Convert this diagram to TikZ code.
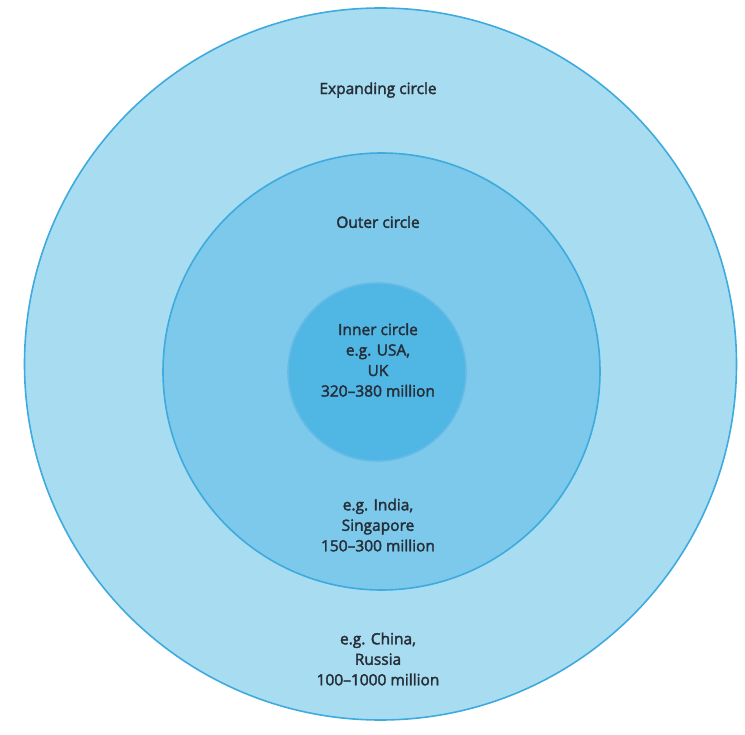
\documentclass[tikz,border=0pt]{standalone}
\usepackage{fontspec}
\setmainfont{Open Sans}
\newfontfamily\labelfont{Open Sans}[FakeBold=2.2]
\begin{document}
\definecolor{ringline}{RGB}{62,170,222}
\definecolor{expandfill}{RGB}{168,221,241}
\definecolor{outerfill}{RGB}{124,201,236}
\definecolor{innerfill}{RGB}{80,182,228}
\definecolor{labeltext}{RGB}{38,46,56}
\begin{tikzpicture}[x=1pt,y=-1pt,
  ring/.style={draw=ringline,line width=1.6pt},
  label/.style={text=labeltext,font=\labelfont\fontsize{15.5}{20.5}\selectfont,align=center,inner sep=0pt}]
  \useasboundingbox (0,0) rectangle (745,735);
  % three concentric circles of English
  \node[ring,fill=expandfill,circle,minimum size=712pt,inner sep=0pt] (expanding) at (380.5,364) {};
  \node[ring,fill=outerfill,circle,minimum size=437pt,inner sep=0pt] (outer) at (381.5,371.5) {};
  \node[ring,draw=ringline!80,fill=innerfill,circle,minimum size=178pt,inner sep=0pt] (inner) at (377,372) {};
  % labels
  \node[label] (expandingname) at (378,90) {Expanding circle};
  \node[label] (outername) at (378,222) {Outer circle};
  \node[label] (innertext) at (378,360) {Inner circle\\e.g. USA,\\UK\\320–380 million};
  \node[label] (outertext) at (378,525) {e.g. India,\\Singapore\\150–300 million};
  \node[label] (expandingtext) at (378,659) {e.g. China,\\Russia\\100–1000 million};
\end{tikzpicture}
\end{document}
